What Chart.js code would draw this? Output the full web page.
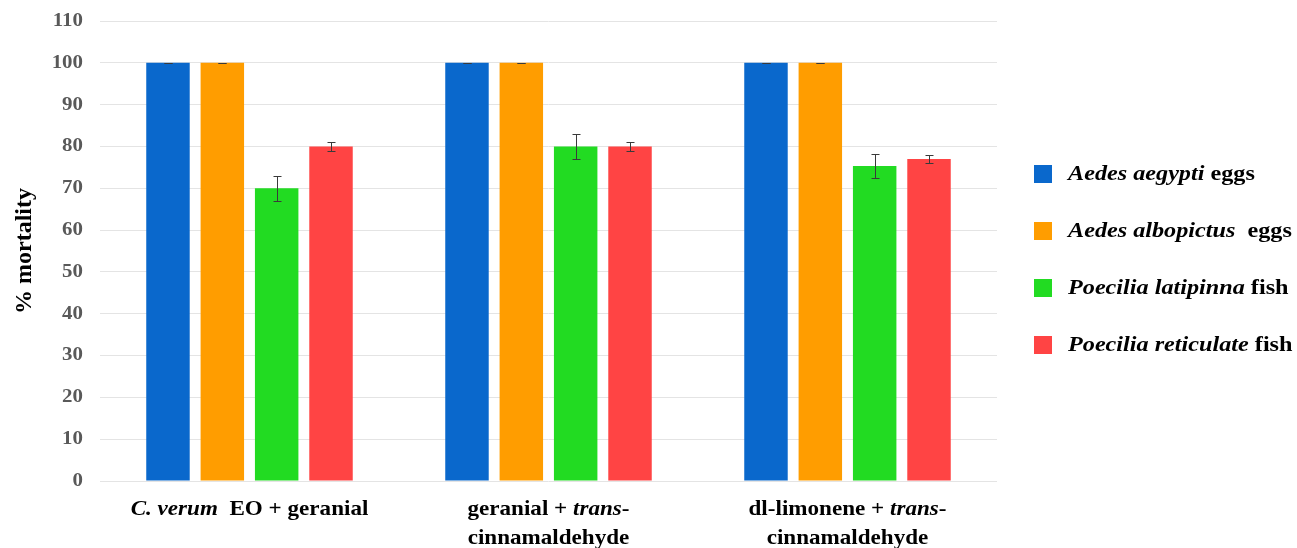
<!DOCTYPE html>
<html>
<head>
<meta charset="utf-8">
<script src="https://cdn.jsdelivr.net/npm/chart.js@4.4.1/dist/chart.umd.min.js"></script>
<style>
  html, body { margin: 0; padding: 0; background: #fff; }
  #wrap { width: 1297px; height: 548px; position: relative; }
</style>
</head>
<body>
<div id="wrap"><canvas id="chart"></canvas></div>
<script>
// categories, one entry per group, one string per label line
const categories = [
    ['C. verum  EO + geranial'],
    ['geranial + trans-', 'cinnamaldehyde'],
    ['dl-limonene + trans-', 'cinnamaldehyde']
];
const seriesNames = [
    'Aedes aegypti eggs',
    'Aedes albopictus  eggs',
    'Poecilia latipinna fish',
    'Poecilia reticulate fish'
];
// words written in italics
const italicTerms = ['C. verum', 'trans', 'Aedes aegypti', 'Aedes albopictus', 'Poecilia latipinna', 'Poecilia reticulate'];

const aegyptiEggs = [100, 100, 100];
const albopictusEggs = [100, 100, 100];
const latipinnaFish = [70, 80, 75.3];
const reticulateFish = [80, 80, 77];

const aegyptiErr = [0, 0, 0];
const albopictusErr = [0, 0, 0];
const latipinnaErr = [3, 2.9, 2.9];
const reticulateErr = [1, 1, 1];

const yTicks = [0, 10, 20, 30, 40, 50, 60, 70, 80, 90, 100, 110];

const colors = ['#0A68CC', '#FF9D00', '#22DB22', '#FF4444'];
const SERIF = '"Liberation Serif", "Times New Roman", serif';
const STRETCH = 1.1; // the source text is a little wider than Liberation Serif

// split a string into pieces, flagging the italic ones
function splitRich(text) {
    let parts = [{ t: text, i: false }];
    italicTerms.forEach(term => {
        const next = [];
        parts.forEach(p => {
            if (p.i || p.t.indexOf(term) < 0) { next.push(p); return; }
            const bits = p.t.split(term);
            bits.forEach((b, k) => {
                if (b) next.push({ t: b, i: false });
                if (k < bits.length - 1) next.push({ t: term, i: true });
            });
        });
        parts = next;
    });
    return parts;
}

function fontFor(p, size) {
    return (p.i ? 'italic bold ' : 'bold ') + size + 'px ' + SERIF;
}

function drawRich(ctx, text, x, y, size, align) {
    const parts = splitRich(text);
    let width = 0;
    parts.forEach(p => { ctx.font = fontFor(p, size); width += ctx.measureText(p.t).width; });
    ctx.save();
    ctx.translate(x, y);
    ctx.scale(STRETCH, 1);
    let cx = align === 'center' ? -width / 2 : 0;
    parts.forEach(p => {
        ctx.font = fontFor(p, size);
        ctx.fillText(p.t, cx, 0);
        cx += ctx.measureText(p.t).width;
    });
    ctx.restore();
}

const errors = [aegyptiErr, albopictusErr, latipinnaErr, reticulateErr];

const errorBars = {
    id: 'errorBars',
    afterDatasetsDraw(chart) {
        const ctx = chart.ctx;
        const y = chart.scales.y;
        ctx.save();
        ctx.strokeStyle = '#3a3a3a';
        ctx.lineWidth = 1;
        chart.data.datasets.forEach((ds, i) => {
            const meta = chart.getDatasetMeta(i);
            meta.data.forEach((bar, j) => {
                const v = ds.data[j];
                const e = errors[i][j];
                const top = Math.round(y.getPixelForValue(v + e)) + 0.5;
                const bot = Math.round(y.getPixelForValue(v - e)) + 0.5;
                const x = Math.round(bar.x) + 0.5;
                ctx.beginPath();
                ctx.moveTo(x, top); ctx.lineTo(x, bot);
                ctx.moveTo(x - 4, top); ctx.lineTo(x + 4, top);
                ctx.moveTo(x - 4, bot); ctx.lineTo(x + 4, bot);
                ctx.stroke();
            });
        });
        ctx.restore();
    }
};

const textLayer = {
    id: 'textLayer',
    afterDraw(chart) {
        const ctx = chart.ctx;
        const xs = chart.scales.x;
        const ys = chart.scales.y;
        ctx.save();
        ctx.textBaseline = 'middle';
        // y tick labels
        ctx.fillStyle = '#595959';
        ctx.textAlign = 'right';
        ctx.font = 'bold 19px ' + SERIF;
        yTicks.forEach(v => {
            const py = ys.getPixelForValue(v);
            ctx.save();
            ctx.translate(83, py);
            ctx.scale(STRETCH, 1);
            ctx.fillText(String(v), 0, 0);
            ctx.restore();
        });
        ctx.textAlign = 'left';
        ctx.fillStyle = '#000';
        // category labels
        categories.forEach((lines, i) => {
            const cx = xs.getPixelForValue(i);
            lines.forEach((line, k) => {
                drawRich(ctx, line, cx, 510 + k * 29, 21, 'center');
            });
        });
        // legend
        seriesNames.forEach((name, i) => {
            const cy = 174 + i * 57;
            ctx.fillStyle = colors[i];
            ctx.fillRect(1034, cy - 9, 18, 18);
            ctx.fillStyle = '#000';
            drawRich(ctx, name, 1068, cy, 22, 'left');
        });
        ctx.restore();
    }
};

const datasets = [aegyptiEggs, albopictusEggs, latipinnaFish, reticulateFish].map((d, i) => ({
    label: seriesNames[i],
    data: d,
    backgroundColor: colors[i],
    borderWidth: 0,
    categoryPercentage: 0.727,
    barPercentage: 0.8
}));

new Chart(document.getElementById('chart'), {
    type: 'bar',
    data: {
        labels: categories.map(c => c.join(' ')),
        datasets: datasets
    },
    options: {
        responsive: true,
        maintainAspectRatio: false,
        animation: false,
        layout: { padding: { top: 21, right: 300, bottom: 59, left: 0 } },
        plugins: {
            legend: { display: false },
            tooltip: { enabled: false }
        },
        scales: {
            x: {
                ticks: { display: false },
                grid: { display: false },
                border: { display: false }
            },
            y: {
                min: 0,
                max: 110,
                afterBuildTicks(scale) { scale.ticks = yTicks.map(v => ({ value: v })); },
                afterFit(scale) { scale.width = 100; },
                ticks: { display: false },
                grid: { color: '#e4e4e4', drawTicks: false },
                border: { display: false },
                title: {
                    display: true,
                    text: '% mortality',
                    color: '#000',
                    padding: { top: 10, bottom: 0 },
                    font: { family: SERIF, size: 24, weight: 'bold' }
                }
            }
        }
    },
    plugins: [errorBars, textLayer]
});
</script>
</body>
</html>
